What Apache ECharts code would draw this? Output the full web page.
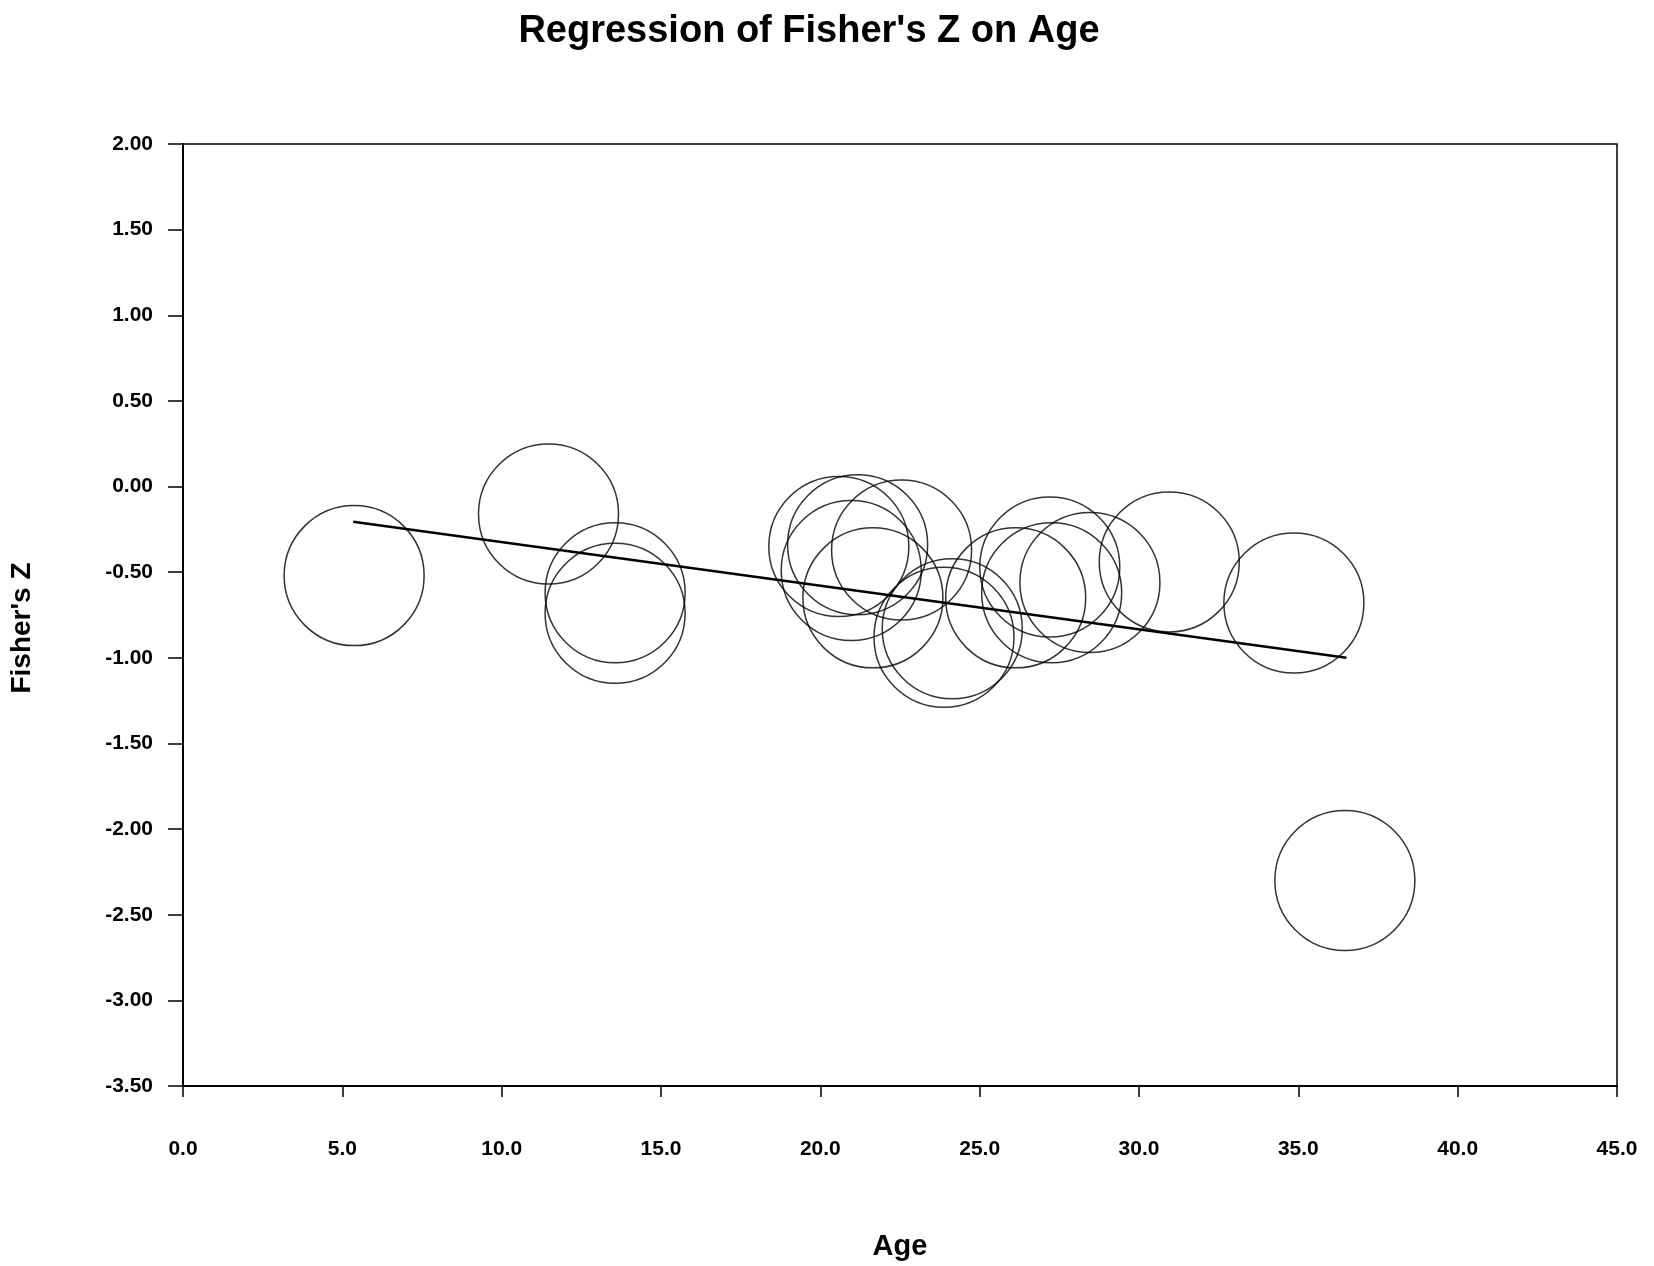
<!DOCTYPE html>
<html>
<head>
<meta charset="utf-8">
<script src="https://cdn.jsdelivr.net/npm/echarts@6/dist/echarts.min.js"></script>
<style>
  html, body { margin: 0; padding: 0; background: #fff; }
  #chart { width: 1654px; height: 1266px; }
</style>
</head>
<body>
<div id="chart"></div>
<script>
// studies: age (x) and Fisher's Z (y)
const ages = [5.37, 11.47, 13.56, 13.56, 20.58, 21.17, 20.97, 22.55, 21.65,
              23.88, 24.14, 26.13, 27.20, 27.26, 28.46, 30.95, 34.86, 36.46];
const fisherZ = [-0.52, -0.16, -0.62, -0.74, -0.35, -0.34, -0.49, -0.37, -0.65,
                 -0.88, -0.83, -0.65, -0.47, -0.62, -0.56, -0.44, -0.68, -2.30];
// fitted regression line end points
const lineX = [5.34, 36.51];
const lineY = [-0.205, -1.0];

const font = 'Liberation Sans, Arial, sans-serif';

const chart = echarts.init(document.getElementById('chart'));

chart.setOption({
    backgroundColor: '#fff',
    animation: false,
    title: {
        text: "Regression of Fisher's Z on Age",
        left: 804, top: 8, textAlign: 'center',
        textStyle: { fontFamily: font, fontSize: 38, fontWeight: 'bold', color: '#000' }
    },
    grid: {
        left: 183, right: 37, top: 144, bottom: 178,
        show: true, borderColor: '#000', borderWidth: 1.5
    },
    xAxis: {
        type: 'value', min: 0, max: 45, interval: 5,
        name: 'Age', nameLocation: 'middle', nameGap: 146,
        nameTextStyle: { fontFamily: font, fontSize: 29, fontWeight: 'bold', color: '#000' },
        axisLine: { onZero: false, lineStyle: { color: '#000', width: 2 } },
        axisTick: { length: 11, lineStyle: { color: '#000', width: 1.5 } },
        axisLabel: {
            margin: 53, fontFamily: font, fontSize: 21, fontWeight: 'bold', color: '#000',
            formatter: v => v.toFixed(1)
        },
        splitLine: { show: false }
    },
    yAxis: {
        type: 'value', min: -3.5, max: 2, interval: 0.5,
        axisLine: { show: true, onZero: false, lineStyle: { color: '#000', width: 2 } },
        axisTick: { show: true, length: 15, lineStyle: { color: '#000', width: 1.5 } },
        axisLabel: {
            margin: 30, fontFamily: font, fontSize: 21, fontWeight: 'bold', color: '#000',
            formatter: v => v.toFixed(2)
        },
        splitLine: { show: false }
    },
    graphic: [{
        type: 'text', x: 22, y: 628, rotation: Math.PI / 2,
        style: {
            text: "Fisher's Z", fontFamily: font, fontSize: 28, fontWeight: 'bold',
            fill: '#000', align: 'center', verticalAlign: 'middle'
        }
    }],
    series: [
        {
            type: 'scatter',
            data: ages.map((a, i) => [a, fisherZ[i]]),
            symbol: 'circle', symbolSize: 140,
            itemStyle: { color: 'rgba(0,0,0,0)', borderColor: '#000', borderWidth: 1.5 },
            emphasis: { disabled: true }
        },
        {
            type: 'line',
            data: lineX.map((x, i) => [x, lineY[i]]),
            symbol: 'none',
            lineStyle: { color: '#000', width: 2.5 },
            z: 3
        }
    ]
});
</script>
</body>
</html>
